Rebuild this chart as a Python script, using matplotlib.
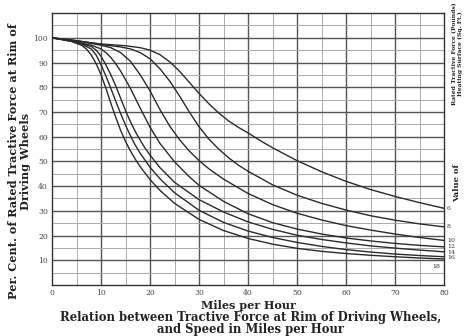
import matplotlib
matplotlib.use("Agg")
import matplotlib.pyplot as plt
import numpy as np

# speeds (mph) at which curve values were read
speed_6 = [0, 5, 10, 15, 18, 20, 22, 24, 26, 28, 30, 32, 34, 36, 38, 40, 43, 45, 50, 55, 60, 65, 70, 75, 80]
pct_6 = [100, 98.8, 97.5, 96.8, 96, 95, 93.2, 90.3, 86.5, 82, 77.5, 73.3, 69.6, 66.4, 63.8, 61.5, 57.8, 55.5, 50.3, 45.8, 41.9, 38.6, 35.8, 33.3, 31]

speed_8 = [0, 5, 10, 14, 16, 18, 20, 22, 24, 26, 28, 30, 32, 34, 36, 38, 40, 45, 50, 55, 60, 65, 70, 75, 80]
pct_8 = [100, 98.8, 97.3, 96.3, 95.5, 94, 91.5, 87.5, 82.5, 76.5, 70, 64, 59, 55, 51.5, 48.5, 46, 40.5, 36.3, 33, 30.3, 28, 26.2, 24.7, 23.5]

speed_10 = [0, 5, 10, 12, 14, 16, 18, 20, 22, 24, 26, 28, 30, 32, 35, 40, 45, 50, 55, 60, 65, 70, 75, 80]
pct_10 = [100, 98.8, 97, 96, 94, 90.5, 85, 78.5, 71, 64.3, 58.8, 54.2, 50.3, 47, 42.8, 37, 32.5, 29, 26.3, 24, 22.2, 20.6, 19.2, 18]

speed_12 = [0, 4, 8, 10, 11, 12, 13, 14, 15, 16, 18, 20, 22, 25, 28, 30, 35, 40, 45, 50, 55, 60, 65, 70, 75, 80]
pct_12 = [100, 98.8, 97, 95.5, 94, 92, 89.5, 86.5, 83, 79.5, 71.5, 63.8, 57.3, 49.8, 43.8, 40.3, 33.8, 28.8, 25.2, 22.6, 20.6, 19, 17.8, 16.8, 16, 15.4]

speed_14 = [0, 4, 8, 9, 10, 11, 12, 13, 14, 15, 16, 17, 18, 19, 20, 22, 25, 30, 35, 40, 45, 50, 55, 60, 65, 70, 75, 80]
pct_14 = [100, 98.7, 96.5, 95, 92.5, 89, 85, 80.5, 75.5, 70.5, 66, 62, 58.5, 55.3, 52.5, 47.5, 41.5, 34.5, 29.5, 25.5, 22.5, 20.1, 18.4, 17, 15.8, 14.9, 14.1, 13.4]

speed_16 = [0, 4, 6, 8, 9, 10, 11, 12, 13, 14, 15, 16, 17, 18, 20, 22, 25, 30, 35, 40, 45, 50, 55, 60, 65, 70, 75, 80]
pct_16 = [100, 98.6, 97.5, 95.5, 93, 89, 84.5, 79.5, 74.3, 69.3, 64.6, 60.3, 56.5, 53.2, 47.6, 43, 37.3, 30.2, 25.3, 21.8, 19.2, 17.2, 15.6, 14.3, 13.3, 12.5, 11.9, 11.4]

speed_18 = [0, 2, 4, 6, 7, 8, 9, 10, 11, 12, 13, 14, 15, 16, 17, 18, 20, 22, 25, 30, 35, 40, 45, 50, 55, 60, 65, 70, 75, 80]
pct_18 = [100, 99.3, 98.5, 97, 95.5, 93, 89.5, 85, 79.5, 73.5, 67.8, 62.5, 58, 54.2, 50.8, 47.8, 42.6, 38.3, 33, 26.5, 22, 18.8, 16.5, 14.8, 13.6, 12.7, 12, 11.4, 10.9, 10.5]

curve_labels = ["6", "8", "10", "12", "14", "16", "18"]
speeds = [speed_6, speed_8, speed_10, speed_12, speed_14, speed_16, speed_18]
pcts = [pct_6, pct_8, pct_10, pct_12, pct_14, pct_16, pct_18]

x_ticks = [0, 10, 20, 30, 40, 50, 60, 70, 80]
y_ticks = [10, 20, 30, 40, 50, 60, 70, 80, 90, 100]

serif = ["DejaVu Serif"]
fig = plt.figure(figsize=(4.65, 3.36), dpi=100)
ax = fig.add_axes([0.112, 0.152, 0.843, 0.809])
ax.set_xlim(0, 80)
ax.set_ylim(0, 110)

# grid
for v in np.arange(5, 80, 5):
    ax.axvline(v, color="#555555" if v % 10 == 0 else "#aaaaaa",
               lw=1.0 if v % 10 == 0 else 0.7, zorder=1)
for v in np.arange(5, 110, 5):
    ax.axhline(v, color="#555555" if v % 10 == 0 else "#aaaaaa",
               lw=1.0 if v % 10 == 0 else 0.7, zorder=1)

for s, p in zip(speeds, pcts):
    ax.plot(s, p, color="#2a2a2a", lw=1.0, zorder=3)

for sp in ax.spines.values():
    sp.set_color("#333333")
    sp.set_linewidth(1.0)

ax.set_xticks(x_ticks)
ax.set_yticks(y_ticks)
ax.set_xticklabels([str(t) for t in x_ticks], fontsize=5.5, family=serif, color="#444444")
ax.set_yticklabels([str(t) for t in y_ticks], fontsize=5.5, family=serif, color="#444444")
ax.tick_params(length=0, pad=3)

# curve labels at the right end
label_pos = {"6": (80.6, 31), "8": (80.6, 23.5), "10": (80.6, 18), "12": (80.6, 15.5),
             "14": (80.6, 13.3), "16": (80.6, 11.0), "18": (77.5, 7.5)}
for lab in curve_labels:
    x, y = label_pos[lab]
    ax.text(x, y, lab, fontsize=4.5, family=serif, color="#333333",
            va="center", ha="left", clip_on=False)

ax.set_xlabel("Miles per Hour", fontsize=8, family=serif, fontweight="bold",
              labelpad=2, color="#222222")
fig.text(0.538, 0.037, "Relation between Tractive Force at Rim of Driving Wheels,\nand Speed in Miles per Hour",
         ha="center", va="center", fontsize=8.4, family=serif, fontweight="bold",
         color="#222222", linespacing=0.95)

fig.text(0.042, 0.52, "Per. Cent. of Rated Tractive Force at Rim of\nDriving Wheels",
         rotation=90, ha="center", va="center", fontsize=8.1, family=serif,
         fontweight="bold", color="#222222", linespacing=1.1)

fig.text(0.983, 0.455, "Value of", rotation=90, ha="center", va="center",
         fontsize=6, family=serif, fontweight="bold", color="#222222")
fig.text(0.983, 0.84, "Rated Tractive Force (Pounds)\nHeating Surface (Sq. Ft.)",
         rotation=90, ha="center", va="center", fontsize=4.3, family=serif,
         fontweight="bold", color="#222222", linespacing=1.15)

fig.savefig("out.png", dpi=100)
